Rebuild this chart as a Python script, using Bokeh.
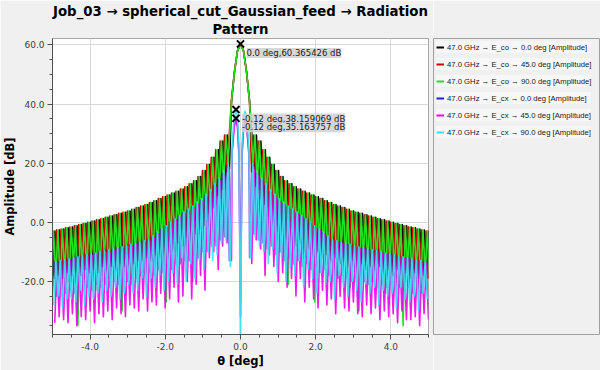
import numpy as np
from bokeh.plotting import figure
from bokeh.models import (Range1d, SingleIntervalTicker, PrintfTickFormatter,
                          ColumnDataSource, LabelSet, Legend, LegendItem, Title)
from bokeh.core.properties import value
from bokeh.layouts import row
from bokeh.embed import file_html
from bokeh.resources import INLINE

# ---------------- data ----------------
title_lines = ["Job_03 \u2192 spherical_cut_Gaussian_feed \u2192 Radiation", "Pattern"]
series_labels = [
    "47.0 GHz \u2192 E_co \u2192 0.0 deg [Amplitude]",
    "47.0 GHz \u2192 E_co \u2192 45.0 deg [Amplitude]",
    "47.0 GHz \u2192 E_co \u2192 90.0 deg [Amplitude]",
    "47.0 GHz \u2192 E_cx \u2192 0.0 deg [Amplitude]",
    "47.0 GHz \u2192 E_cx \u2192 45.0 deg [Amplitude]",
    "47.0 GHz \u2192 E_cx \u2192 90.0 deg [Amplitude]",
]
series_colors = ["#000000", "#d00000", "#22e022", "#2020d0", "#ee00ee", "#30e8f0"]
series_alpha = [1.0, 1.0, 1.0, 0.55, 0.9, 0.9]

lobe_step = 0.1175      # sidelobe period [deg]
copol_first_null = 0.33
xpol_first_null = 0.27

# main beams
copol_mb_theta = [-0.24, -0.16, -0.08, 0.0, 0.08, 0.16, 0.24]
green_mb = [41.0, 51.0, 58.0, 60.365426, 58.0, 51.0, 41.0]
black_mb = [41.0, 51.0, 58.0, 60.3, 58.0, 51.0, 41.0]
red_mb = [41.0, 51.0, 58.0, 60.3, 58.0, 51.0, 41.0]

xpol_mb_theta = [-0.22, -0.17, -0.12, -0.08, -0.04, 0.0, 0.04, 0.08, 0.12, 0.17, 0.22]
cyan_mb = [27.0, 35.0, 38.159069, 35.5, 26.0, -45.0, 26.0, 35.0, 37.6, 34.5, 26.5]
magenta_mb = [24.0, 32.0, 35.163757, 32.5, 23.0, -32.0, 23.0, 32.0, 34.8, 31.5, 23.5]
blue_mb = [24.5, 32.2, 35.0, 32.0, 22.0, -26.0, 22.0, 32.0, 34.6, 31.8, 24.0]

# sidelobe peaks (from the main beam outwards)
copol_peaks = [29.5, 27.5, 24.5, 22.0, 19.5, 17.5, 15.5, 14.0, 13.0, 12.0,
               11.2, 10.5, 9.9, 9.2, 8.6, 8.0, 7.3, 6.7, 6.0, 5.5,
               5.0, 4.4, 3.8, 3.4, 3.0, 2.5, 2.1, 1.7, 1.2, 0.8,
               0.4, 0.0, -0.4, -0.8, -1.2, -1.6, -1.9, -2.3, -2.6, -3.0]
cyan_peaks = [20.0, 17.5, 15.0, 13.0, 11.0, 9.5, 8.0, 6.8, 5.5, 4.5,
              3.5, 2.3, 1.2, 0.0, -1.2, -2.2, -3.3, -4.6, -5.8, -6.3,
              -6.7, -7.1, -7.5, -7.9, -8.3, -8.6, -9.0, -9.3, -9.7, -10.0,
              -10.4, -10.7, -11.0, -11.4, -11.7, -12.0, -12.4, -12.7, -13.0, -13.4]
magenta_peaks = [18.5, 16.0, 14.0, 12.0, 10.0, 8.5, 7.0, 6.0, 4.8, 3.8,
                 2.8, 1.8, 0.8, -0.4, -1.8, -2.8, -4.0, -5.2, -6.3, -6.8,
                 -7.2, -7.6, -8.0, -8.4, -8.8, -9.1, -9.5, -9.8, -10.2, -10.5,
                 -10.9, -11.2, -11.5, -11.9, -12.2, -12.5, -12.9, -13.2, -13.5, -13.9]
blue_peaks = [19.0, 16.5, 14.5, 12.5, 10.5, 9.0, 7.5, 6.3, 5.2, 4.2,
              3.2, 2.2, 1.2, 0.0, -1.4, -2.4, -3.6, -4.8, -5.9, -6.4,
              -6.8, -7.2, -7.6, -8.0, -8.4, -8.7, -9.1, -9.4, -9.8, -10.1,
              -10.5, -10.8, -11.1, -11.5, -11.8, -12.1, -12.5, -12.8, -13.1, -13.5]

# nulls (from the main beam outwards), left (L) and right (R) side
green_nulls_R = [20, 14, 10, 9, 5, 2, -3, -1, -21, -2, -8, -4, -12, -5, -27, -6, -9, -14, -7, -18,
                 -8, -12, -22, -9, -30, -11, -14, -20, -12, -16, -24, -13, -17, -14, -35, -15, -19, -16, -22, -17, -18]
green_nulls_L = [20, 13, 11, 8, 4, 3, -2, -1, -20, -3, -7, -4, -10, -5, -27, -6, -10, -13, -8, -17,
                 -9, -11, -21, -10, -30, -12, -13, -19, -11, -17, -23, -12, -16, -15, -35, -14, -20, -17, -21, -18, -19]
black_nulls_R = [18, 11, 9, 5, 4, -1, -1, -5, -4, -7, -6, -9, -8, -11, -9, -12, -10, -13, -11, -14,
                 -12, -14, -13, -15, -13, -16, -14, -16, -14, -17, -15, -17, -15, -18, -16, -18, -16, -18, -17, -19, -17]
black_nulls_L = [18, 12, 8, 6, 3, 0, -2, -4, -5, -6, -8, -8, -10, -9, -11, -11, -12, -12, -13, -12,
                 -14, -13, -14, -14, -15, -14, -16, -15, -16, -15, -17, -16, -17, -16, -18, -17, -18, -17, -19, -18, -18]
red_nulls_R = [17, 12, 8, 6, 2, 0, -3, -3, -6, -6, -8, -7, -10, -9, -11, -10, -12, -11, -13, -12,
               -14, -13, -15, -13, -15, -14, -16, -15, -16, -15, -17, -16, -18, -16, -18, -17, -19, -17, -19, -18, -19]
red_nulls_L = [17, 11, 9, 5, 3, -1, -2, -4, -6, -5, -8, -7, -9, -10, -10, -12, -11, -13, -12, -13,
               -13, -14, -14, -15, -14, -16, -15, -16, -15, -17, -16, -17, -16, -18, -17, -18, -17, -19, -18, -19, -18]
cyan_nulls_R = [-12, -5, -8, -10, -14, -9, -17, -12, -20, -15, -18, -13, -22, -16, -19, -24, -17, -21, -20, -26,
                -18, -22, -25, -20, -23, -27, -21, -24, -22, -28, -23, -25, -24, -29, -22, -26, -27, -25, -30, -24, -26]
cyan_nulls_L = [-15, -6, -7, -11, -13, -10, -16, -13, -19, -14, -20, -12, -21, -17, -20, -23, -18, -22, -19, -25,
                -19, -23, -24, -21, -24, -26, -22, -25, -23, -27, -24, -26, -25, -28, -23, -27, -26, -26, -29, -25, -28]
magenta_nulls_R = [-14, -6, -9, -18, -11, -15, -20, -17, -22, -19, -25, -19, -27, -22, -26, -29, -23, -28, -26, -31,
                   -25, -29, -30, -27, -31, -32, -28, -31, -29, -33, -30, -32, -31, -34, -30, -33, -33, -32, -35, -31, -33]
magenta_nulls_L = [-13, -7, -8, -16, -10, -12, -23, -18, -21, -26, -20, -25, -27, -22, -26, -29, -24, -28, -27, -30,
                   -26, -30, -29, -28, -32, -31, -29, -33, -30, -32, -31, -34, -30, -33, -32, -35, -31, -34, -33, -32, -34]
blue_nulls_R = [-12, -4, -6, -7, -9, -8, -11, -10, -13, -12, -14, -13, -15, -14, -16, -15, -17, -16, -18, -17,
                -19, -18, -19, -20, -19, -21, -20, -21, -20, -22, -21, -22, -21, -23, -22, -23, -22, -24, -23, -24, -23]
blue_nulls_L = [-13, -5, -6, -8, -8, -10, -10, -12, -11, -13, -13, -14, -14, -16, -15, -17, -16, -18, -17, -18,
                -18, -19, -19, -20, -20, -21, -20, -22, -21, -22, -21, -23, -22, -23, -22, -24, -23, -24, -23, -25, -24]

# peak markers
marker_theta = [0.0, -0.12, -0.12]
marker_db = [60.365426, 38.159069, 35.163757]


# ---------------- assemble series ----------------
def side(start, nulls, peaks):
    t, v = [], []
    for i in range(len(peaks)):
        t.append(start + lobe_step * i)
        v.append(nulls[i])
        t.append(start + lobe_step * (i + 0.5))
        v.append(peaks[i])
    t.append(start + lobe_step * len(peaks))
    v.append(nulls[len(peaks)])
    return t, v


def assemble(mb_t, mb_v, nulls_L, peaks, nulls_R, start, shift):
    tR, vR = side(start, nulls_R, peaks)
    tL, vL = side(start, nulls_L, peaks)
    theta = [-x + shift for x in tL[::-1]] + list(mb_t) + [x + shift for x in tR]
    vals = vL[::-1] + list(mb_v) + vR
    return theta, vals


series = [
    assemble(copol_mb_theta, black_mb, black_nulls_L, copol_peaks, black_nulls_R, copol_first_null, 0.035),
    assemble(copol_mb_theta, red_mb, red_nulls_L, copol_peaks, red_nulls_R, copol_first_null, -0.035),
    assemble(copol_mb_theta, green_mb, green_nulls_L, copol_peaks, green_nulls_R, copol_first_null, 0.0),
    assemble(xpol_mb_theta, blue_mb, blue_nulls_L, blue_peaks, blue_nulls_R, xpol_first_null, -0.03),
    assemble(xpol_mb_theta, magenta_mb, magenta_nulls_L, magenta_peaks, magenta_nulls_R, xpol_first_null, 0.03),
    assemble(xpol_mb_theta, cyan_mb, cyan_nulls_L, cyan_peaks, cyan_nulls_R, xpol_first_null, 0.0),
]

BG = "#f0f0f0"

# ---------------- main plot ----------------
p = figure(width=433, height=370, x_range=Range1d(-5, 5), y_range=Range1d(-38, 62.2),
           output_backend="svg", toolbar_location=None,
           min_border_left=48, min_border_right=5, min_border_top=2, min_border_bottom=4)
p.background_fill_color = "white"
p.border_fill_color = BG
p.outline_line_color = "#a8a8a8"


def style_title(t):
    t.align = "center"
    t.text_font = "DejaVu Sans"
    t.text_font_size = "13.3px"
    t.text_font_style = "bold"
    t.text_color = "#000000"


p.title.text = title_lines[0]
style_title(p.title)
p.title.standoff = 0
t2 = Title(text=title_lines[1])
style_title(t2)
t2.standoff = 3
p.add_layout(t2, "above")

for (th, vals), col, a in zip(series, series_colors, series_alpha):
    p.line(th, vals, line_color=col, line_alpha=a, line_width=1.6, line_join="round")

p.xaxis.ticker = SingleIntervalTicker(interval=2, num_minor_ticks=4)
p.yaxis.ticker = SingleIntervalTicker(interval=20, num_minor_ticks=4)
p.xaxis.formatter = PrintfTickFormatter(format="%.1f")
p.yaxis.formatter = PrintfTickFormatter(format="%.1f")
p.xaxis.axis_label = "\u03b8 [deg]"
p.yaxis.axis_label = "Amplitude [dB]"
for ax in (p.xaxis, p.yaxis):
    ax.axis_label_text_font = "DejaVu Sans"
    ax.axis_label_text_font_size = "11.5px"
    ax.axis_label_text_font_style = "bold"
    ax.axis_label_text_color = "#000000"
    ax.axis_label_standoff = 1
    ax.major_label_text_font = "DejaVu Sans"
    ax.major_label_text_font_size = "9px"
    ax.major_label_text_color = "#404040"
    ax.major_label_standoff = 3
    ax.axis_line_color = "#505050"
    ax.major_tick_line_color = "#505050"
    ax.minor_tick_line_color = "#505050"
    ax.major_tick_in = 0
    ax.major_tick_out = 5
    ax.minor_tick_in = 0
    ax.minor_tick_out = 3
p.grid.grid_line_color = "#d8d8d8"

p.scatter(marker_theta, marker_db, marker="x", size=10, line_color="black", line_width=2)
marker_text = [f"{t} deg,{v} dB" for t, v in zip(marker_theta, marker_db)]
lbl_src = ColumnDataSource(dict(x=marker_theta, y=marker_db, text=marker_text))
p.add_layout(LabelSet(x="x", y="y", text="text", source=lbl_src, x_offset=6, y_offset=-9,
                      text_font=value("DejaVu Sans"), text_font_size=value("8.5px"),
                      text_color="#202020", text_baseline="middle",
                      background_fill_color="#d0d0d0", background_fill_alpha=0.85))

# ---------------- legend panel ----------------
p2 = figure(width=167, height=370, x_range=Range1d(0, 1), y_range=Range1d(0, 1),
            x_axis_type=None, y_axis_type=None, output_backend="svg", toolbar_location=None,
            min_border_left=0, min_border_right=0, min_border_top=38, min_border_bottom=34)
p2.background_fill_color = BG
p2.border_fill_color = BG
p2.outline_line_color = "#a0a0a0"
items = []
for lab, col in zip(series_labels, series_colors):
    r = p2.line(x=[np.nan], y=[np.nan], line_color=col, line_width=2)
    items.append(LegendItem(label=lab, renderers=[r]))
leg = Legend(items=items, location="top_left", margin=2, padding=1, spacing=5,
             label_text_font="Liberation Sans", label_text_font_size="7.7px",
             label_text_color="#202020", glyph_width=8, glyph_height=12, label_height=12,
             label_standoff=3, border_line_alpha=0, background_fill_alpha=0,
             item_background_policy="every", item_background_fill_color="#f7f7f7",
             item_background_fill_alpha=1.0)
p2.add_layout(leg)

layout = row(p, p2)
open("out.html", "w").write(file_html(layout, INLINE))
